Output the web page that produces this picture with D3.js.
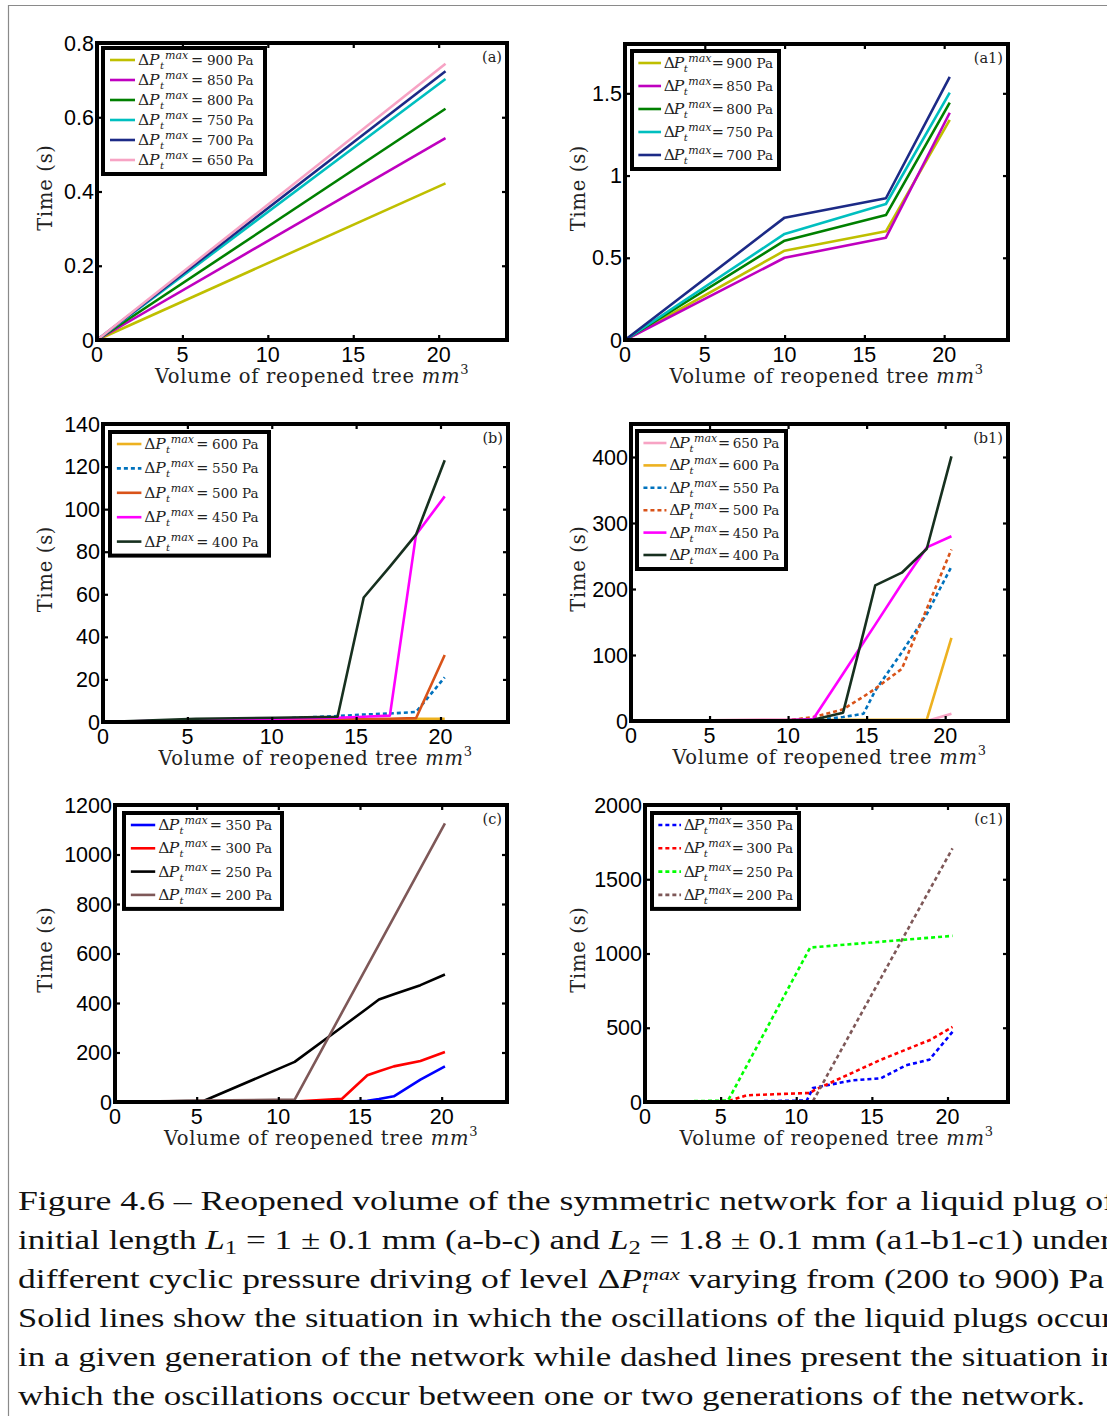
<!DOCTYPE html>
<html>
<head>
<meta charset="utf-8">
<script src="https://cdn.jsdelivr.net/npm/d3@7"></script>
<style>
    body { margin: 0; background: #fff; }
    svg { display: block; }
</style>
</head>
<body>
<div id="chart"></div>
<script>
(function () {

    'use strict';

    // ---- data ----

    var volumeTicks = [0, 5, 10, 15, 20];

    // (a)  L1, 650-900 Pa
    var aPressure = [900, 850, 800, 750, 700, 650];
    var aVolume = [[0, 20.4], [0, 20.4], [0, 20.4], [0, 20.4], [0, 20.4], [0, 20.4]];
    var aTime = [[0, 0.422], [0, 0.544], [0, 0.623], [0, 0.703], [0, 0.724], [0, 0.744]];
    var aTicks = [0, 0.2, 0.4, 0.6, 0.8];

    // (a1) L2, 700-900 Pa
    var a1Pressure = [900, 850, 800, 750, 700];
    var a1Volume = [[0, 10.0, 16.35, 20.35], [0, 10.0, 16.35, 20.35], [0, 10.0, 16.35, 20.35], [0, 10.0, 16.35, 20.35], [0, 10.0, 16.35, 20.35]];
    var a1Time = [[0, 0.543, 0.661, 1.338], [0, 0.50, 0.622, 1.382], [0, 0.604, 0.760, 1.443], [0, 0.645, 0.827, 1.504], [0, 0.744, 0.862, 1.60]];
    var a1Ticks = [0, 0.5, 1, 1.5];

    // (b)  L1, 400-600 Pa
    var bPressure = [600, 550, 500, 450, 400];
    var bGrid = [0, 5.5, 10.2, 13.9, 15.45, 17.0, 18.55, 20.25];
    var bVolume = [bGrid, bGrid, bGrid, bGrid, bGrid];
    var bTime = [
        [0, 0.4, 0.8, 1.0, 1.2, 1.3, 1.5, 1.5],
        [0, 0.8, 1.5, 2.8, 3.5, 4.0, 4.7, 21],
        [0, 0.5, 1.0, 1.2, 1.4, 1.5, 1.8, 31.5],
        [0, 1.0, 1.5, 2.0, 2.5, 3.0, 88, 106],
        [0, 1.5, 2.0, 2.5, 58.5, 73, 88, 123]
    ];
    var bTicks = [0, 20, 40, 60, 80, 100, 120, 140];

    // (b1) L2, 400-650 Pa
    var b1Pressure = [650, 600, 550, 500, 450, 400];
    var b1Grid = [0, 5, 10, 11.6, 13.5, 14.8, 15.55, 17.24, 18.83, 20.4];
    var b1Volume = [b1Grid, b1Grid, b1Grid, b1Grid, b1Grid, b1Grid];
    var b1Time = [
        [0, 0, 0, 0, 0, 0, 0, 0, 0, 11],
        [0, 1, 1.5, 1.5, 1.8, 2, 2, 2, 2, 126],
        [0, 0, 0.5, 1, 6, 11, 46, 104, 162, 234],
        [0, 0, 1, 6, 17.7, 37, 49, 79, 170, 260],
        [0, 1, 1.5, 3, 71.6, 119, 146, 208, 263, 280],
        [0, 0.5, 1, 2, 12.6, 134, 205.6, 224.7, 261, 401]
    ];
    var b1Ticks = [0, 100, 200, 300, 400];

    // (c)  L1, 200-350 Pa
    var cPressure = [350, 300, 250, 200];
    var cGrid = [0, 5.45, 11.0, 13.9, 15.45, 16.16, 17.07, 18.7, 20.2];
    var cVolume = [cGrid, cGrid, cGrid, cGrid];
    var cTime = [
        [0, 0, 0, 1, 5, 12, 23, 90, 144],
        [0, 1, 2, 13, 108, 124, 144, 166, 202],
        [0, 5, 162, 303, 379, 414, 435, 472, 515],
        [0, 6, 10, 362, 550, 636, 746, 944, 1126]
    ];
    var cTicks = [0, 200, 400, 600, 800, 1000, 1200];

    // (c1) L2, 200-350 Pa
    var c1Pressure = [350, 300, 250, 200];
    var c1Volume = [
        [0, 5.5, 10.7, 11.1, 13.7, 15.6, 17.25, 18.8, 20.33],
        [0, 5.5, 6.7, 10.9, 11.2, 15.6, 18.9, 20.33],
        [0, 5.49, 10.92, 20.33],
        [0, 5.5, 11.1, 20.33]
    ];
    var c1Time = [
        [0, 2, 10, 94, 146, 160, 247, 285, 472],
        [0, 5, 45, 61, 80, 285, 420, 506],
        [0, 10, 1040, 1119],
        [0, 3, 5, 1708]
    ];
    var c1Ticks = [0, 500, 1000, 1500, 2000];

    // ---- layout ----

    var W = 1107, H = 1416;
    var tickFont = '"Liberation Sans", Arial, sans-serif';
    var serif = '"DejaVu Serif", serif';
    var capFont = '"Liberation Serif", "Times New Roman", serif';

    var panels = [
        {tag: '(a)', box: {l: 97, r: 507, t: 43, b: 340}, yMax: 0.8, ticks: aTicks, p: aPressure, xs: aVolume, ys: aTime,
            colors: ['#bfbf00', '#bf00bf', '#008000', '#00bfbf', '#1c2a86', '#f7a3c4'], dashed: [0, 0, 0, 0, 0, 0],
            legend: {x: 103, y: 48, rowH: 20, w: 162}, yLabelX: 46},
        {tag: '(a1)', box: {l: 625, r: 1008, t: 44, b: 340}, yMax: 1.8, ticks: a1Ticks, p: a1Pressure, xs: a1Volume, ys: a1Time,
            colors: ['#bfbf00', '#bf00bf', '#008000', '#00bfbf', '#1c2a86'], dashed: [0, 0, 0, 0, 0],
            legend: {x: 632, y: 51, rowH: 23, w: 147}, yLabelX: 579},
        {tag: '(b)', box: {l: 103, r: 508, t: 424, b: 722}, yMax: 140, ticks: bTicks, p: bPressure, xs: bVolume, ys: bTime,
            colors: ['#edb120', '#0072bd', '#d95319', '#ff00ff', '#17301f'], dashed: [0, 1, 0, 0, 0],
            legend: {x: 110, y: 432, rowH: 24.4, w: 159}, yLabelX: 46},
        {tag: '(b1)', box: {l: 631, r: 1008, t: 424, b: 721}, yMax: 450, ticks: b1Ticks, p: b1Pressure, xs: b1Volume, ys: b1Time,
            colors: ['#f7a3c4', '#edb120', '#0072bd', '#d95319', '#ff00ff', '#17301f'], dashed: [0, 0, 1, 1, 0, 0],
            legend: {x: 637, y: 431, rowH: 22.4, w: 149}, yLabelX: 579},
        {tag: '(c)', box: {l: 115, r: 507, t: 805, b: 1102}, yMax: 1200, ticks: cTicks, p: cPressure, xs: cVolume, ys: cTime,
            colors: ['#0000ff', '#ff0000', '#000000', '#7e5858'], dashed: [0, 0, 0, 0],
            legend: {x: 124, y: 813, rowH: 23.3, w: 158}, yLabelX: 46},
        {tag: '(c1)', box: {l: 645, r: 1008, t: 805, b: 1102}, yMax: 2000, ticks: c1Ticks, p: c1Pressure, xs: c1Volume, ys: c1Time,
            colors: ['#0000ff', '#ff0000', '#00ff00', '#7e5858'], dashed: [1, 1, 1, 1],
            legend: {x: 652, y: 813, rowH: 23.3, w: 147}, yLabelX: 579}
    ];

    var svg = d3.select('#chart').append('svg')
        .attr('width', W)
        .attr('height', H);

    svg.append('rect').attr('width', W).attr('height', H).attr('fill', '#fff');

    // page frame
    svg.append('path')
        .attr('d', 'M8.5,' + H + 'V5.5H' + W)
        .attr('fill', 'none')
        .attr('stroke', '#8a8a8a')
        .attr('stroke-width', 1.2);

    // legend entry: ΔP_t^max = ... Pa, pieces placed at fixed offsets (scaled with the box width)
    var writeEntry = function (parent, lx, k, baseY, value) {
        var put = function (off, txt, size, italic, dy) {
            return parent.append('text')
                .attr('x', lx + off * k)
                .attr('y', baseY + (dy || 0))
                .attr('font-family', serif)
                .attr('font-size', size)
                .attr('font-style', italic ? 'italic' : null)
                .attr('fill', '#222')
                .text(txt);
        };
        put(35, 'Δ', 15.5);
        put(46, 'P', 15.5, true);
        put(57, 't', 10, true, 4);
        put(62, 'max', 11, true, -6);
        put(88, '=', 14.5);
        put(104, value + ' Pa', 13.5);
    };

    var drawPanel = function (cfg) {

        var box = cfg.box;

        var x = d3.scaleLinear().domain([0, 24]).range([box.l, box.r]);
        var y = d3.scaleLinear().domain([0, cfg.yMax]).range([box.b, box.t]);

        var g = svg.append('g');

        var line = d3.line()
            .x(function (d) { return x(d[0]); })
            .y(function (d) { return y(d[1]); });

        cfg.p.forEach(function (p, i) {
            var pts = cfg.xs[i].map(function (v, k) { return [v, cfg.ys[i][k]]; });
            g.append('path')
                .attr('d', line(pts))
                .attr('fill', 'none')
                .attr('stroke', cfg.colors[i])
                .attr('stroke-width', 2.6)
                .attr('stroke-linejoin', 'round')
                .attr('stroke-dasharray', cfg.dashed[i] ? '4,3' : null);
        });

        // inner ticks on all four sides
        var tickLen = 5;
        var axisB = d3.axisBottom(x).tickValues(volumeTicks).tickSize(-tickLen).tickFormat('');
        var axisT = d3.axisTop(x).tickValues(volumeTicks).tickSize(-tickLen).tickFormat('');
        var axisL = d3.axisLeft(y).tickValues(cfg.ticks).tickSize(-tickLen).tickFormat('');
        var axisR = d3.axisRight(y).tickValues(cfg.ticks).tickSize(-tickLen).tickFormat('');

        [[axisB, 'translate(0,' + box.b + ')'], [axisT, 'translate(0,' + box.t + ')'],
            [axisL, 'translate(' + box.l + ',0)'], [axisR, 'translate(' + box.r + ',0)']].forEach(function (a) {
            var ag = g.append('g').attr('transform', a[1]).call(a[0]);
            ag.select('.domain').remove();
            ag.selectAll('.tick line').attr('stroke', '#000').attr('stroke-width', 2.2);
        });

        // frame
        g.append('rect')
            .attr('x', box.l).attr('y', box.t)
            .attr('width', box.r - box.l).attr('height', box.b - box.t)
            .attr('fill', 'none')
            .attr('stroke', '#000')
            .attr('stroke-width', 4);

        // tick labels
        g.selectAll('.xlab').data(volumeTicks).enter().append('text')
            .attr('x', function (d) { return x(d); })
            .attr('y', box.b + 22)
            .attr('text-anchor', 'middle')
            .attr('font-family', tickFont)
            .attr('font-size', 21.5)
            .text(function (d) { return d; });

        g.selectAll('.ylab').data(cfg.ticks).enter().append('text')
            .attr('x', box.l - 3)
            .attr('y', function (d) { return y(d) + 7.5; })
            .attr('text-anchor', 'end')
            .attr('font-family', tickFont)
            .attr('font-size', 21.5)
            .text(function (d) { return d; });

        // axis titles
        var xt = g.append('text')
            .attr('x', (box.l + box.r) / 2 + 10)
            .attr('y', box.b + 43)
            .attr('text-anchor', 'middle')
            .attr('font-family', serif)
            .attr('font-size', 19.5)
            .attr('letter-spacing', 0.7)
            .attr('fill', '#222');
        xt.append('tspan').text('Volume of reopened tree ');
        xt.append('tspan').attr('font-style', 'italic').text('mm');
        xt.append('tspan').attr('font-size', 13).attr('dy', -9).text('3');

        g.append('text')
            .attr('transform', 'translate(' + (cfg.yLabelX + 6) + ',' + ((box.t + box.b) / 2 - 4) + ') rotate(-90)')
            .attr('text-anchor', 'middle')
            .attr('font-family', serif)
            .attr('font-size', 19.5)
            .attr('letter-spacing', 0.7)
            .attr('fill', '#222')
            .text('Time (s)');

        g.append('text')
            .attr('x', box.r - 5)
            .attr('y', box.t + 19)
            .attr('text-anchor', 'end')
            .attr('font-family', serif)
            .attr('font-size', 14.5)
            .attr('fill', '#222')
            .text(cfg.tag);

        // legend
        var lg = cfg.legend;
        var rows = cfg.p.length;
        var k = lg.w / 162;
        var lgH = 12 + lg.rowH * (rows - 1) + 14;
        var leg = g.append('g');
        leg.append('rect')
            .attr('x', lg.x).attr('y', lg.y)
            .attr('width', lg.w).attr('height', lgH)
            .attr('fill', '#fff')
            .attr('stroke', '#000')
            .attr('stroke-width', 4);

        cfg.p.forEach(function (p, i) {
            var cy = lg.y + 12 + lg.rowH * i;
            leg.append('line')
                .attr('x1', lg.x + 7 * k).attr('x2', lg.x + 32 * k)
                .attr('y1', cy).attr('y2', cy)
                .attr('stroke', cfg.colors[i])
                .attr('stroke-width', 2.6)
                .attr('stroke-dasharray', cfg.dashed[i] ? '4,3' : null);
            writeEntry(leg, lg.x, k, cy + 5, p);
        });
    };

    panels.forEach(drawPanel);

    // ---- caption ----
    var capSize = 28;
    var capX = 18;
    var capY = [1210, 1249, 1288, 1327, 1366, 1405];
    var capWidth = [1097, 1094, 1086, 1095, 1100, 1067];

    var cap = svg.append('g')
        .attr('font-family', capFont)
        .attr('font-size', capSize)
        .attr('fill', '#111');

    var capLine = function (i) {
        return cap.append('text')
            .attr('x', capX)
            .attr('y', capY[i])
            .attr('textLength', capWidth[i])
            .attr('lengthAdjust', 'spacingAndGlyphs');
    };

    capLine(0).text('Figure 4.6 – Reopened volume of the symmetric network for a liquid plug of');

    var l2 = capLine(1);
    l2.append('tspan').text('initial length ');
    l2.append('tspan').attr('font-style', 'italic').text('L');
    l2.append('tspan').attr('font-size', capSize * 0.7).attr('dy', 5).text('1');
    l2.append('tspan').attr('dy', -5).text(' = 1 ± 0.1 mm (a-b-c) and ');
    l2.append('tspan').attr('font-style', 'italic').text('L');
    l2.append('tspan').attr('font-size', capSize * 0.7).attr('dy', 5).text('2');
    l2.append('tspan').attr('dy', -5).text(' = 1.8 ± 0.1 mm (a1-b1-c1) under');

    var l3 = capLine(2);
    l3.append('tspan').text('different cyclic pressure driving of level Δ');
    l3.append('tspan').attr('font-style', 'italic').text('P');
    l3.append('tspan').attr('font-style', 'italic').attr('font-size', capSize * 0.62).attr('dy', 5).text('t');
    l3.append('tspan').attr('font-style', 'italic').attr('font-size', capSize * 0.62).attr('dx', -4).attr('dy', -13).text('max');
    l3.append('tspan').attr('dy', 8).text(' varying from (200 to 900) Pa');

    capLine(3).text('Solid lines show the situation in which the oscillations of the liquid plugs occur');
    capLine(4).text('in a given generation of the network while dashed lines present the situation in');
    capLine(5).text('which the oscillations occur between one or two generations of the network.');

}());
</script>
</body>
</html>
